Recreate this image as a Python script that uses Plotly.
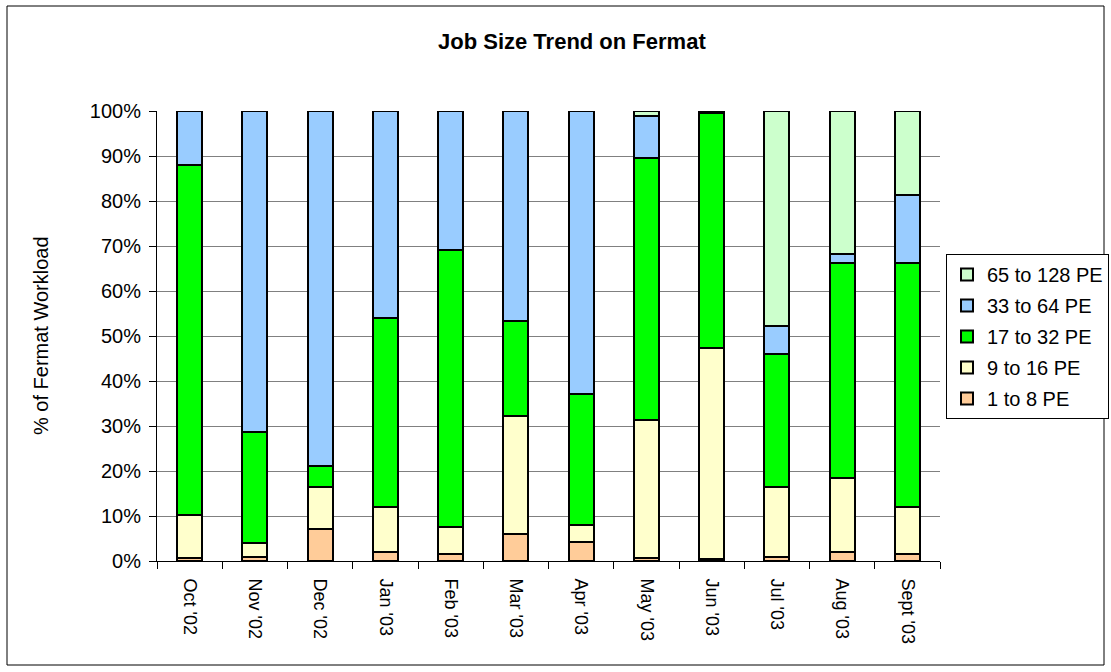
import plotly.graph_objects as go

months = ["Oct '02", "Nov '02", "Dec '02", "Jan '03", "Feb '03", "Mar '03",
          "Apr '03", "May '03", "Jun '03", "Jul '03", "Aug '03", "Sept '03"]

pe_1_8 = [0.6, 1.0, 7.2, 1.9, 1.6, 6.0, 4.2, 0.6, 0.5, 0.8, 2.1, 1.5]
pe_9_16 = [9.6, 3.1, 9.2, 10.1, 5.9, 26.2, 3.9, 30.7, 46.8, 15.6, 16.3, 10.6]
pe_17_32 = [77.9, 24.5, 4.8, 42.0, 61.6, 21.1, 29.0, 58.3, 52.2, 29.6, 47.8, 54.1]
pe_33_64 = [11.9, 71.4, 78.8, 46.0, 30.9, 46.7, 62.9, 9.4, 0.3, 6.2, 2.1, 15.1]
pe_65_128 = [None, None, None, None, None, None, None, 1.0, 0.2, 47.8, 31.7, 18.7]

series = [
    ("1 to 8 PE", pe_1_8, "#FFCC99"),
    ("9 to 16 PE", pe_9_16, "#FFFFCC"),
    ("17 to 32 PE", pe_17_32, "#00FF00"),
    ("33 to 64 PE", pe_33_64, "#99CCFF"),
    ("65 to 128 PE", pe_65_128, "#CCFFCC"),
]

FONT = "Arial, Liberation Sans, sans-serif"

fig = go.Figure()
n = len(series)
for i, (name, vals, color) in enumerate(series):
    fig.add_trace(go.Bar(
        x=months, y=vals, name=name, legendrank=n - i, legendgroup=name,
        marker=dict(color=color, line=dict(color="black", width=2)),
        width=0.38,
    ))

W, H = 1111, 672
L, R, T, B = 157, 940, 111, 561

def px(x):
    return (x - L) / (R - L)

def py(y):
    return (B - y) / (B - T)

fig.update_layout(
    width=W, height=H,
    margin=dict(l=L, r=W - R, t=T, b=H - B, autoexpand=False),
    barmode="stack",
    plot_bgcolor="white", paper_bgcolor="white",
    font=dict(family=FONT, size=18, color="black"),
    showlegend=True,
    legend=dict(
        x=px(946), y=py(254), xanchor="left", yanchor="top",
        traceorder="grouped", tracegroupgap=2,
        bordercolor="black", borderwidth=1, bgcolor="white",
        font=dict(family=FONT, size=20, color="black"),
        itemwidth=30,
    ),
    xaxis=dict(
        type="category", tickangle=90, showgrid=False,
        showline=True, linecolor="black", linewidth=1,
        ticks="outside", tickson="boundaries", ticklen=7, tickcolor="black",
        tickfont=dict(family=FONT, size=18, color="black"),
        ticklabelstandoff=13,
    ),
    yaxis=dict(
        range=[0, 100], dtick=10, ticksuffix="%",
        showgrid=True, gridcolor="#808080", gridwidth=1,
        showline=True, linecolor="black", linewidth=1,
        ticks="outside", ticklen=7, tickcolor="black",
        tickfont=dict(family=FONT, size=20, color="black"),
        ticklabelstandoff=4,
        zeroline=False,
    ),
    annotations=[
        dict(text="<b>Job Size Trend on Fermat</b>", xref="paper", yref="paper",
             x=px(572), y=py(41), xanchor="center", yanchor="middle",
             showarrow=False, font=dict(family=FONT, size=22, color="black")),
        dict(text="% of Fermat Workload", xref="paper", yref="paper",
             x=px(41), y=py(336), xanchor="center", yanchor="middle",
             textangle=-90, showarrow=False,
             font=dict(family=FONT, size=20, color="black")),
    ],
    shapes=[
        dict(type="rect", xref="paper", yref="paper",
             x0=px(7), x1=px(1104), y0=py(665), y1=py(6),
             line=dict(color="black", width=1), fillcolor="rgba(0,0,0,0)",
             layer="below"),
    ],
)

fig.write_html(
    "out.html",
    config={"displayModeBar": False},
    post_script="document.body.style.margin='0';document.body.style.overflow='hidden';",
)
